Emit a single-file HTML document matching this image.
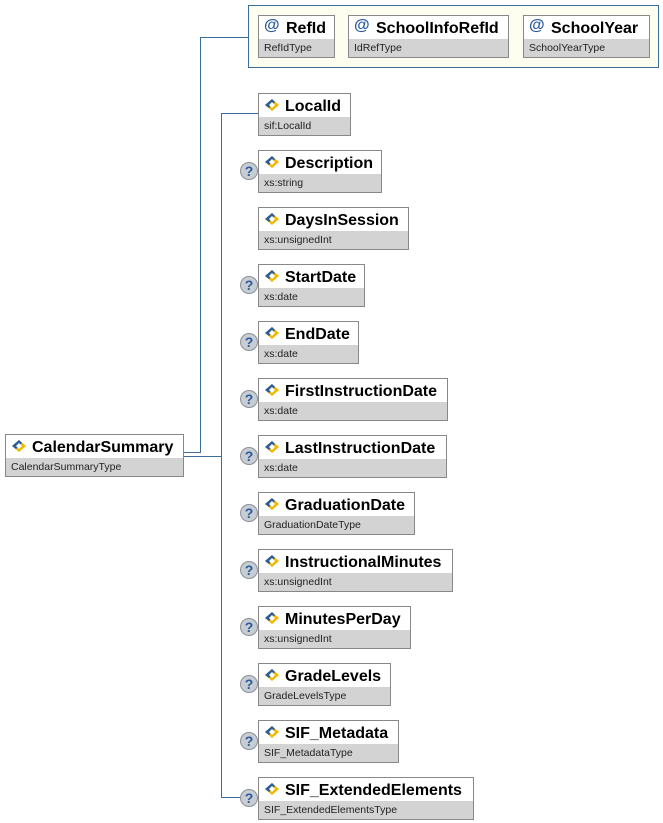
<!DOCTYPE html>
<html><head><meta charset="utf-8"><style>
body{margin:0;width:663px;height:823px;background:#fff;position:relative;overflow:hidden;font-family:"Liberation Sans",Arial,sans-serif}
.b{position:absolute;border:1px solid #888;background:#fff;box-sizing:border-box}
.b .n{height:24px;line-height:25px;font-weight:bold;font-size:16px;color:#000;padding-left:26px;white-space:nowrap;position:relative}
.b .t{position:absolute;left:0;right:0;bottom:0;height:18px;line-height:18px;background:#d3d3d3;font-size:10.5px;padding-left:5px;color:#222;white-space:nowrap}
.b .n svg{position:absolute;left:6px;top:5px}
.a .n{padding-left:27px}
.at{position:absolute;left:5px;top:-3px;color:#2a5b9c;font-size:16px;font-weight:bold}
.l{position:absolute;background:#3c6c9c}
.q{position:absolute;width:18px;height:18px;border-radius:50%;background:#c8cdd4;border:1px solid #8a9099;box-sizing:border-box;color:#2a5b9c;font-weight:bold;font-size:14px;text-align:center;line-height:17px}
</style></head><body>
<div class="l" style="left:200px;top:37px;width:1px;height:416px"></div>
<div class="l" style="left:200px;top:37px;width:48px;height:1px"></div>
<div class="l" style="left:184px;top:452px;width:17px;height:1px"></div>
<div class="l" style="left:184px;top:456px;width:38px;height:1px"></div>
<div class="l" style="left:221px;top:113px;width:1px;height:685px"></div>
<div style="position:absolute;left:248px;top:5px;width:411px;height:63px;box-sizing:border-box;border:1px solid #3c6c9c;background:#fefef0"></div>
<div class="b a" style="left:258px;top:15px;width:77px;height:43px"><div class="n"><span class="at">@</span>RefId</div><div class="t">RefIdType</div></div>
<div class="b a" style="left:348px;top:15px;width:161px;height:43px"><div class="n"><span class="at">@</span>SchoolInfoRefId</div><div class="t">IdRefType</div></div>
<div class="b a" style="left:523px;top:15px;width:127px;height:43px"><div class="n"><span class="at">@</span>SchoolYear</div><div class="t">SchoolYearType</div></div>
<div class="b" style="left:5px;top:434px;width:179px;height:43px"><div class="n"><svg width="14" height="12" viewBox="0 0 14 12"><polygon points="7,0 14,6 7,12 0,6" fill="#f0b800"/><polygon points="7,0 0,6 4,9 7,6 10,3" fill="#2a5b9c"/><polygon points="7,3 10,6 7,9 4,6" fill="#fff"/></svg>CalendarSummary</div><div class="t">CalendarSummaryType</div></div>
<div id="els"></div>
<script>
var d=[["LocalId","sif:LocalId",350,0],["Description","xs:string",381,1],["DaysInSession","xs:unsignedInt",408,0],["StartDate","xs:date",364,1],["EndDate","xs:date",358,1],["FirstInstructionDate","xs:date",447,1],["LastInstructionDate","xs:date",446,1],["GraduationDate","GraduationDateType",414,1],["InstructionalMinutes","xs:unsignedInt",452,1],["MinutesPerDay","xs:unsignedInt",410,1],["GradeLevels","GradeLevelsType",390,1],["SIF_Metadata","SIF_MetadataType",398,1],["SIF_ExtendedElements","SIF_ExtendedElementsType",473,1]];
var h="";var ic='<svg width="14" height="12" viewBox="0 0 14 12"><polygon points="7,0 14,6 7,12 0,6" fill="#f0b800"/><polygon points="7,0 0,6 4,9 7,6 10,3" fill="#2a5b9c"/><polygon points="7,3 10,6 7,9 4,6" fill="#fff"/></svg>';
d.forEach(function(e,i){var t=93+57*i;
if(i==0||i==12)h+='<div class="l" style="left:221px;top:'+(t+20)+'px;width:37px;height:1px"></div>';
h+='<div class="b" style="left:258px;top:'+t+'px;width:'+(e[2]-258+1)+'px;height:43px"><div class="n">'+ic+e[0]+'</div><div class="t">'+e[1]+'</div></div>';
if(e[3])h+='<div class="q" style="left:240px;top:'+(t+12)+'px">?</div>';});
document.getElementById("els").innerHTML=h;
</script>
</body></html>
